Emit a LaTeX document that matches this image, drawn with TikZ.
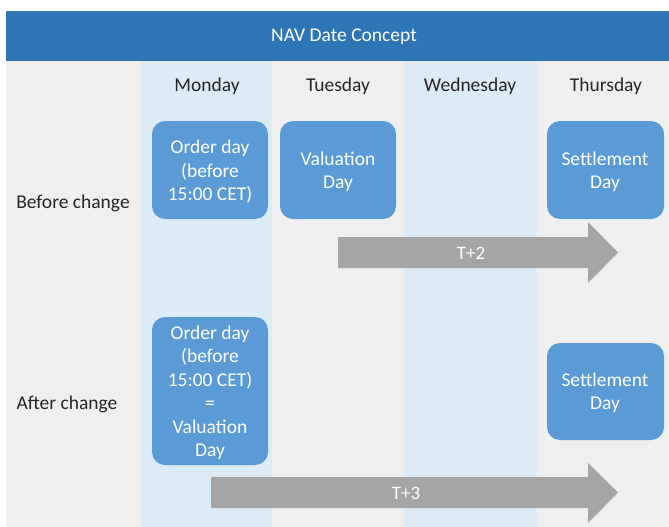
\documentclass[tikz,border=0pt]{standalone}
\usepackage{fontspec}
\setmainfont{Carlito}
\definecolor{hdr}{HTML}{2E75B6}
\definecolor{boxc}{HTML}{5B9BD5}
\definecolor{bg}{HTML}{EFEFEF}
\definecolor{colb}{HTML}{DDEBF7}
\definecolor{arr}{HTML}{A5A5A5}
\definecolor{txt}{HTML}{262626}
\begin{document}
\begin{tikzpicture}[x=1pt,y=-1pt,
  daybox/.style={fill=boxc,rounded corners=13pt,draw=none,text=white,align=center,
    font=\fontsize{19.5}{23.5}\selectfont,inner sep=0pt},
  dayhead/.style={font=\fontsize{19.5}{23}\selectfont,text=txt},
  rowlabel/.style={font=\fontsize{19.5}{23}\selectfont,text=txt},
  arrlabel/.style={text=white,font=\fontsize{19}{23}\selectfont},
  garrow/.style={fill=arr,draw=none}]
\useasboundingbox (0,0) rectangle (669,527);
\fill[white] (0,0) rectangle (669,527);
\fill[bg] (6,61) rectangle (669,527);
\fill[colb] (141,61) rectangle (272,527);
\fill[colb] (404,61) rectangle (537,527);
\fill[hdr] (6,11) rectangle (669,61);
\node[text=white,font=\fontsize{19.5}{23}\selectfont] (title) at (344,37) {NAV Date Concept};
\node[dayhead] (mon) at (207,86) {Monday};
\node[dayhead] (tue) at (338,86) {Tuesday};
\node[dayhead] (wed) at (470,86) {Wednesday};
\node[dayhead] (thu) at (606,86) {Thursday};
\node[rowlabel] (before) at (73,203) {Before change};
\node[rowlabel] (after) at (67,404) {After change};
% before change
\fill[daybox] (152,121) rectangle (268,219);
\node[daybox,fill=none] (b1) at (210,172) {Order day\\(before\\15:00 CET)};
\fill[daybox] (280,121) rectangle (396,219);
\node[daybox,fill=none] (b2) at (338,172) {Valuation\\Day};
\fill[daybox] (547,121) rectangle (664,219);
\node[daybox,fill=none] (b3) at (605,172) {Settlement\\Day};
% T+2 arrow
\fill[garrow] (338,237) -- (588,237) -- (588,222) -- (618,252.5) -- (588,283) -- (588,268) -- (338,268) -- cycle;
\node[arrlabel] (t2) at (471,253) {T+2};
% after change
\fill[daybox] (152,317) rectangle (268,465);
\node[daybox,fill=none] (a1) at (210,393) {Order day\\(before\\15:00 CET)\\=\\Valuation\\Day};
\fill[daybox] (547,343) rectangle (664,440);
\node[daybox,fill=none] (a2) at (605,393) {Settlement\\Day};
% T+3 arrow
\fill[garrow] (211,477) -- (588,477) -- (588,463) -- (618,492.5) -- (588,523) -- (588,508) -- (211,508) -- cycle;
\node[arrlabel] (t3) at (406,493) {T+3};
\end{tikzpicture}
\end{document}
